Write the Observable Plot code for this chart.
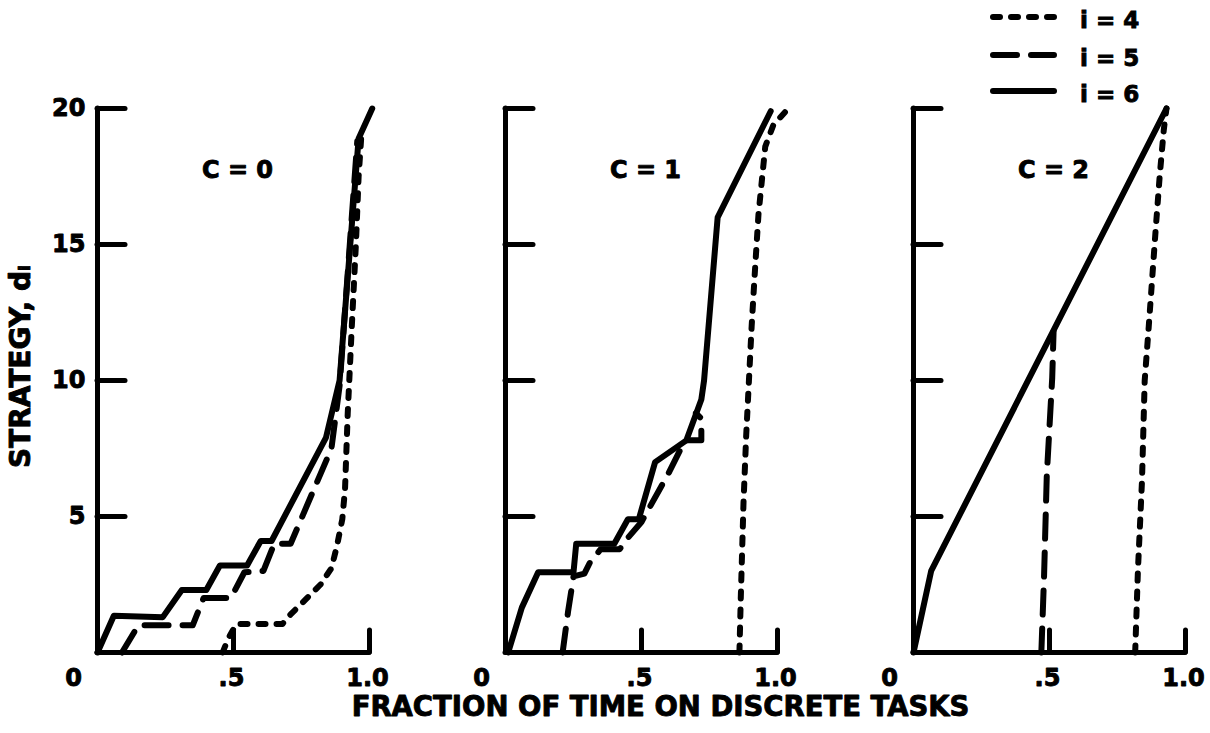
<!DOCTYPE html>
<html>
<head>
<meta charset="utf-8">
<script src="https://cdn.jsdelivr.net/npm/d3@7"></script>
<script src="https://cdn.jsdelivr.net/npm/@observablehq/plot@0.6"></script>
<style>
html, body { margin: 0; padding: 0; background: #fff; }
#wrap { position: relative; width: 1210px; height: 733px; overflow: hidden;
  font-family: "DejaVu Sans", "Liberation Sans", sans-serif; font-weight: bold; }
</style>
</head>
<body>
<div id="wrap"></div>
<script>
// ---- data ----
const cValues = [0, 1, 2];
const facetLabels = ["C = 0", "C = 1", "C = 2"];

// C = 0
const c0_i4 = [[0.46,0],[0.48,0.5],[0.51,1.05],[0.68,1.05],[0.71,1.4],[0.77,2.0],[0.82,2.5],[0.86,3.1],[0.88,3.9],[0.90,4.9],[0.91,6.0],[0.92,8.8],[0.935,12],[0.95,15],[0.96,17.5],[0.97,19.0]];
const c0_i5 = [[0.09,0],[0.15,1.0],[0.35,1.0],[0.39,2.0],[0.49,2.0],[0.54,2.95],[0.61,3.0],[0.65,4.0],[0.71,4.0],[0.86,7.5],[0.89,9.8],[0.955,18.8]];
const c0_i6 = [[0,0],[0.06,1.35],[0.24,1.3],[0.31,2.3],[0.40,2.3],[0.45,3.2],[0.55,3.2],[0.60,4.1],[0.64,4.1],[0.84,7.9],[0.89,10],[0.96,18.9],[1.01,20]];
// C = 1
const c1_i4 = [[0.86,0],[0.865,2],[0.875,5.5],[0.885,8],[0.895,10],[0.905,12],[0.915,13.7],[0.93,16.1],[0.955,18.6],[0.985,19.4],[1.04,20]];
const c1_i5 = [[0.21,0],[0.23,1.5],[0.25,2.8],[0.29,2.9],[0.31,3.3],[0.35,3.8],[0.42,3.8],[0.44,4.1],[0.50,4.8],[0.60,6.6],[0.66,7.8],[0.72,7.8],[0.72,8.6],[0.70,8.8]];
const c1_i6 = [[0.01,0],[0.06,1.65],[0.12,2.95],[0.25,2.95],[0.26,4.0],[0.40,4.0],[0.45,4.9],[0.49,4.9],[0.55,7.0],[0.665,7.8],[0.72,9.3],[0.73,10],[0.78,16],[0.975,19.9]];
// C = 2
const c2_i4 = [[0.815,0],[0.825,3],[0.84,6.3],[0.85,10],[0.865,12],[0.89,15.5],[0.905,17.5],[0.92,19.2],[0.93,20]];
const c2_i5 = [[0.47,0],[0.48,2.8],[0.49,6.5],[0.51,10.1],[0.515,11.8]];
const c2_i6 = [[0,0],[0.065,3.0],[0.93,20]];

const yTickValues = [5, 10, 15, 20];
const yTickLabels = ["5", "10", "15", "20"];
const xTickValues = [0.5, 1.0];
const xTickLabels = [".5", "1.0"];
const zeroLabel = ["0"];
const xTitle = ["FRACTION OF TIME ON DISCRETE TASKS"];
const yTitle = ["STRATEGY, d\u1D62"];
const legendI = [4, 5, 6];
const legendLabels = ["i = 4", "i = 5", "i = 6"];

// ---- build table ----
const series = [
  {C: 0, i: 4, pts: c0_i4}, {C: 0, i: 5, pts: c0_i5}, {C: 0, i: 6, pts: c0_i6},
  {C: 1, i: 4, pts: c1_i4}, {C: 1, i: 5, pts: c1_i5}, {C: 1, i: 6, pts: c1_i6},
  {C: 2, i: 4, pts: c2_i4}, {C: 2, i: 5, pts: c2_i5}, {C: 2, i: 6, pts: c2_i6}
];
const rows = series.flatMap(s => s.pts.map(([x, y]) => ({C: s.C, i: s.i, x, y})));

const dashFor = {4: "7,11", 5: "24,14", 6: null};

// ---- layout ----
const W = 1210, H = 733, mL = 97, mR = 25, mT = 108, mB = 81;
const pad = 1 / 3;
const panelW = (W - mL - mR) / (3 - pad) * (1 - pad);
const pxPerY = (H - mT - mB) / 20;
const yTickLen = 28 / panelW;   // inward tick length, in x units
const xTickLen = 22 / pxPerY;   // upward tick length, in y units

const FONT = "'DejaVu Sans', 'Liberation Sans', sans-serif";
const axisStyle = {stroke: "black", strokeWidth: 5, strokeLinecap: "round"};
const textStyle = {fill: "black", stroke: "black", strokeWidth: 0.9, lineAnchor: "middle"};
const lineStyle = i => ({
  x: "x", y: "y", fx: "C", stroke: "black", strokeWidth: 6,
  strokeLinecap: "round", strokeLinejoin: "round",
  ...(dashFor[i] ? {strokeDasharray: dashFor[i]} : {})
});

const chart = Plot.plot({
  width: W, height: H,
  marginLeft: mL, marginRight: mR, marginTop: mT, marginBottom: mB,
  style: {fontFamily: FONT, fontWeight: "bold", fontSize: "24px", background: "white", overflow: "visible"},
  fx: {domain: cValues, paddingInner: pad, paddingOuter: 0, round: false, axis: null, label: null},
  x: {domain: [0, 1], axis: null},
  y: {domain: [0, 20], axis: null},
  marks: [
    Plot.ruleX([0], {x: d => d, y1: 0, y2: 20, ...axisStyle}),
    Plot.ruleY([0], {y: d => d, x1: 0, x2: 1, ...axisStyle}),
    Plot.ruleY(yTickValues, {y: d => d, x1: 0, x2: yTickLen, ...axisStyle}),
    Plot.ruleX(xTickValues, {x: d => d, y1: 0, y2: xTickLen, ...axisStyle}),
    Plot.line(rows.filter(r => r.i === 4), lineStyle(4)),
    Plot.line(rows.filter(r => r.i === 5), lineStyle(5)),
    Plot.line(rows.filter(r => r.i === 6), lineStyle(6)),
    Plot.text(yTickValues, {x: 0, y: d => d, fx: () => 0, text: (d, k) => yTickLabels[k],
      textAnchor: "end", dx: -12, fontSize: 24, ...textStyle}),
    Plot.text(zeroLabel, {x: 0, y: 0, text: d => d, dx: -24, dy: 26, fontSize: 24, ...textStyle}),
    Plot.text(xTickValues, {x: d => d, y: 0, text: (d, k) => xTickLabels[k], dx: -2, dy: 26, fontSize: 24, ...textStyle}),
    Plot.text(cValues, {fx: d => d, text: (d, k) => facetLabels[k], frameAnchor: "top", textAnchor: "middle",
      dx: 4, dy: 62, fontSize: 24, ...textStyle}),
    Plot.text(xTitle, {fx: () => 1, text: d => d, frameAnchor: "bottom", textAnchor: "middle",
      dx: 19, dy: 55, fontSize: 27.5, ...textStyle}),
    Plot.text(yTitle, {fx: () => 0, text: d => d, frameAnchor: "left", textAnchor: "middle", rotate: -90,
      dx: -76, dy: -14, fontSize: 28, ...textStyle})
  ]
});
document.getElementById("wrap").appendChild(chart);

// ---- legend (top right) ----
const leg = d3.select("#wrap").append("svg")
  .attr("width", 230).attr("height", 110)
  .style("position", "absolute").style("left", "980px").style("top", "0px");
const legRowY = [17, 55, 91];
legendI.forEach((iv, k) => {
  const ln = leg.append("line")
    .attr("x1", 13).attr("x2", 74).attr("y1", legRowY[k]).attr("y2", legRowY[k])
    .attr("stroke", "black").attr("stroke-width", 6).attr("stroke-linecap", "round");
  if (dashFor[iv]) ln.attr("stroke-dasharray", dashFor[iv]);
  leg.append("text")
    .attr("x", 100).attr("y", legRowY[k] + 4)
    .attr("dominant-baseline", "middle")
    .attr("fill", "black").attr("stroke", "black").attr("stroke-width", 0.9)
    .style("font-family", FONT)
    .style("font-weight", "bold").style("font-size", "23px")
    .text(legendLabels[k]);
});
</script>
</body>
</html>
